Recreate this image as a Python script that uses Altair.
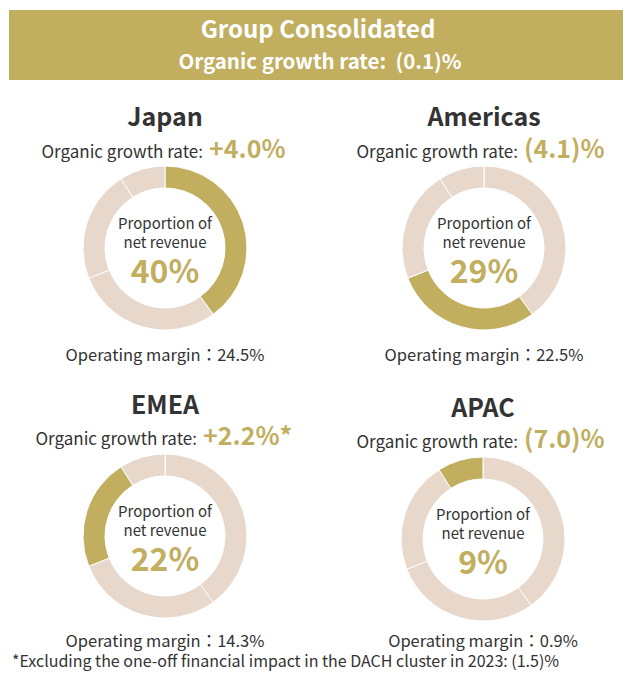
import altair as alt
import pandas as pd

# ---------------- data ----------------
regions = ["Japan", "Americas", "EMEA", "APAC"]
shares = [40, 29, 22, 9]
share_labels = ["40%", "29%", "22%", "9%"]
growth_labels = ["+4.0%", "(4.1)%", "+2.2%*", "(7.0)%"]
margins = ["24.5%", "22.5%", "14.3%", "0.9%"]
header_title = "Group Consolidated"
header_growth = "Organic growth rate:\u00a0\u00a0(0.1)%"
growth_prefix = "Organic growth rate:"
inner_lines = ["Proportion of", "net revenue"]
margin_prefix = "Operating margin："
footnote = "*Excluding the one-off financial impact in the DACH cluster in 2023: (1.5)%"

# ---------------- style / layout ----------------
FONT = "Noto Sans CJK JP"
GOLD = "#C1AE5F"
BEIGE = "#E8D8CB"
DARK = "#333333"
W, H = 615, 664
OX, OY = 8, 8  # page margin offset

# page coordinates of each panel
layout = {
    "Japan":    dict(cx=165, cy=248, ty=126, gy=158, split=206, my=361),
    "Americas": dict(cx=484, cy=248, ty=126, gy=158, split=521, my=361),
    "EMEA":     dict(cx=165, cy=536, ty=414, gy=445, split=200, my=647),
    "APAC":     dict(cx=483, cy=539, ty=417, gy=448, split=521, my=647),
}


def txt(s, x, y, size, color=DARK, weight="normal", align="center", baseline="alphabetic"):
    return alt.Chart(pd.DataFrame({"t": [s]})).mark_text(
        font=FONT, fontSize=size, fontWeight=weight, color=color,
        align=align, baseline=baseline,
    ).encode(text="t:N", x=alt.value(x - OX), y=alt.value(y - OY))


layers = []

# header banner
banner = alt.Chart(pd.DataFrame({"a": [0]})).mark_rect(color=GOLD).encode(
    x=alt.value(9 - OX), x2=alt.value(626 - OX), y=alt.value(10 - OY), y2=alt.value(80 - OY)
)
layers.append(banner)
layers.append(txt(header_title, 318, 38, 24, "white", "bold"))
layers.append(txt(header_growth, 320, 69, 20.5, "white", "bold"))

pie_df = pd.DataFrame({"region": regions, "share": shares, "order": list(range(len(regions)))})

for i, r in enumerate(regions):
    L = layout[r]
    cx, cy = L["cx"], L["cy"]
    arc = alt.Chart(pie_df).mark_arc(
        innerRadius=60, outerRadius=82, stroke="white", strokeWidth=1
    ).encode(
        theta=alt.Theta("share:Q", stack=True),
        order=alt.Order("order:Q"),
        color=alt.condition(f"datum.region == '{r}'", alt.value(GOLD), alt.value(BEIGE)),
        x=alt.value(cx - OX),
        y=alt.value(cy - OY),
    )
    layers.append(arc)
    layers.append(txt(r, cx, L["ty"], 25, DARK, "bold"))
    layers.append(txt(growth_prefix, L["split"] - 3, L["gy"], 17, DARK, "normal", "right"))
    layers.append(txt(growth_labels[i], L["split"] + 3, L["gy"], 25, GOLD, "bold", "left"))
    layers.append(txt(inner_lines[0], cx, cy - 19, 15, DARK))
    layers.append(txt(inner_lines[1], cx, cy, 15, DARK))
    layers.append(txt(share_labels[i], cx, cy + 35, 32, GOLD, "bold"))
    layers.append(txt(margin_prefix + margins[i], cx, L["my"], 16.5, DARK))

layers.append(txt(footnote, 12, 667, 16, DARK, "normal", "left"))

chart = alt.layer(*layers).properties(
    width=W, height=H, padding=0,
    autosize=alt.AutoSizeParams(type="fit", contains="padding"),
).configure_view(stroke=None)

chart.save("out.html", embed_options={"renderer": "svg", "actions": False})
